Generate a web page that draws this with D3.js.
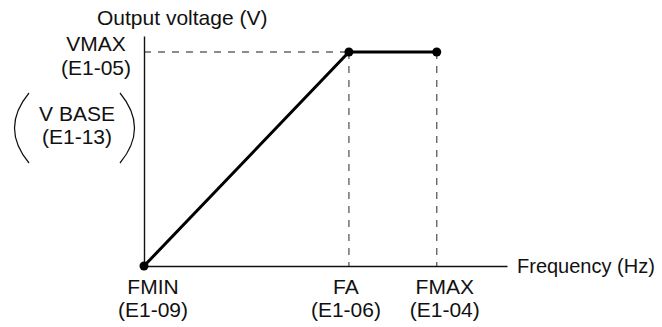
<!DOCTYPE html>
<html>
<head>
<meta charset="utf-8">
<script src="https://cdn.jsdelivr.net/npm/d3@7"></script>
<style>
  body { margin: 0; background: #fff; }
  svg { display: block; font-family: "Liberation Sans", Arial, Helvetica, sans-serif; }
  text { font-size: 21px; fill: #111; }
</style>
</head>
<body>
<script>
// V/f pattern points (relative units, FMIN -> FA -> FMAX)
const pointNames = ['FMIN', 'FA', 'FMAX'];
const pointParams = ['(E1-09)', '(E1-06)', '(E1-04)'];
const freqValues = [0, 70, 100];
const voltValues = [0, 100, 100];
const voltLabels = [['VMAX', '(E1-05)'], ['V BASE', '(E1-13)']];
const xTitle = 'Frequency (Hz)';
const yTitle = 'Output voltage (V)';

let svgWidth = 662, svgHeight = 327;
let svg = d3.select('body').append('svg')
    .attr('width', svgWidth).attr('height', svgHeight);

// axis extents go a bit past the last point
let x = d3.scaleLinear().domain([0, 124]).range([144, 507]);
let y = d3.scaleLinear().domain([0, 107.5]).range([266, 36]);

let pts = freqValues.map((f, i) => ({f: f, v: voltValues[i], name: pointNames[i], param: pointParams[i]}));

// guide lines
let guides = svg.append('g').attr('stroke', '#666').attr('stroke-width', 1.4)
    .attr('stroke-dasharray', '7,7').attr('fill', 'none');
guides.append('line')
    .attr('x1', x(0)).attr('y1', y(voltValues[1]))
    .attr('x2', x(freqValues[1])).attr('y2', y(voltValues[1]));
pts.slice(1).forEach(p => {
    guides.append('line')
        .attr('x1', x(p.f)).attr('y1', y(p.v))
        .attr('x2', x(p.f)).attr('y2', y(0));
});

// axes: bare lines, no ticks
svg.append('g').attr('transform', `translate(0,${y(0)})`)
    .call(d3.axisBottom(x).tickValues([]).tickSizeOuter(0))
    .select('.domain').attr('stroke', '#111').attr('stroke-width', 1.4);
svg.append('g').attr('transform', `translate(${x(0)},0)`)
    .call(d3.axisLeft(y).tickValues([]).tickSizeOuter(0))
    .select('.domain').attr('stroke', '#111').attr('stroke-width', 1.4);

// the V/f line
svg.append('path')
    .datum(pts)
    .attr('fill', 'none').attr('stroke', '#000').attr('stroke-width', 3)
    .attr('d', d3.line().x(d => x(d.f)).y(d => y(d.v)));
svg.append('g').selectAll('circle')
    .data(pts).enter().append('circle')
    .attr('cx', d => x(d.f)).attr('cy', d => y(d.v)).attr('r', 4.5)
    .attr('fill', '#000');

// frequency labels under the axis
const labelNudge = [9, -3, 8];
let fl = svg.append('g').attr('text-anchor', 'middle');
pts.forEach((p, i) => {
    let t = fl.append('text').attr('transform', `translate(${x(p.f) + labelNudge[i]},0)`);
    t.append('tspan').attr('x', 0).attr('y', 294).text(p.name);
    t.append('tspan').attr('x', 0).attr('y', 317).text(p.param);
});

// voltage labels
let vl = svg.append('g').attr('text-anchor', 'middle');
vl.append('text').attr('x', 96).attr('y', 51).text(voltLabels[0][0]);
vl.append('text').attr('x', 96).attr('y', 75).text(voltLabels[0][1]);
vl.append('text').attr('x', 77).attr('y', 121).text(voltLabels[1][0]);
vl.append('text').attr('x', 77).attr('y', 144).text(voltLabels[1][1]);

// big parentheses round V BASE
let paren = svg.append('g').attr('fill', 'none').attr('stroke', '#111').attr('stroke-width', 1.2);
paren.append('path').attr('d', 'M29,93 Q0,128 29,163');
paren.append('path').attr('d', 'M120,93 Q149,128 120,163');

// titles
svg.append('text').attr('x', 97).attr('y', 25).text(yTitle);
svg.append('text').attr('x', 517).attr('y', 273).style('font-size', '20px').text(xTitle);
</script>
</body>
</html>
